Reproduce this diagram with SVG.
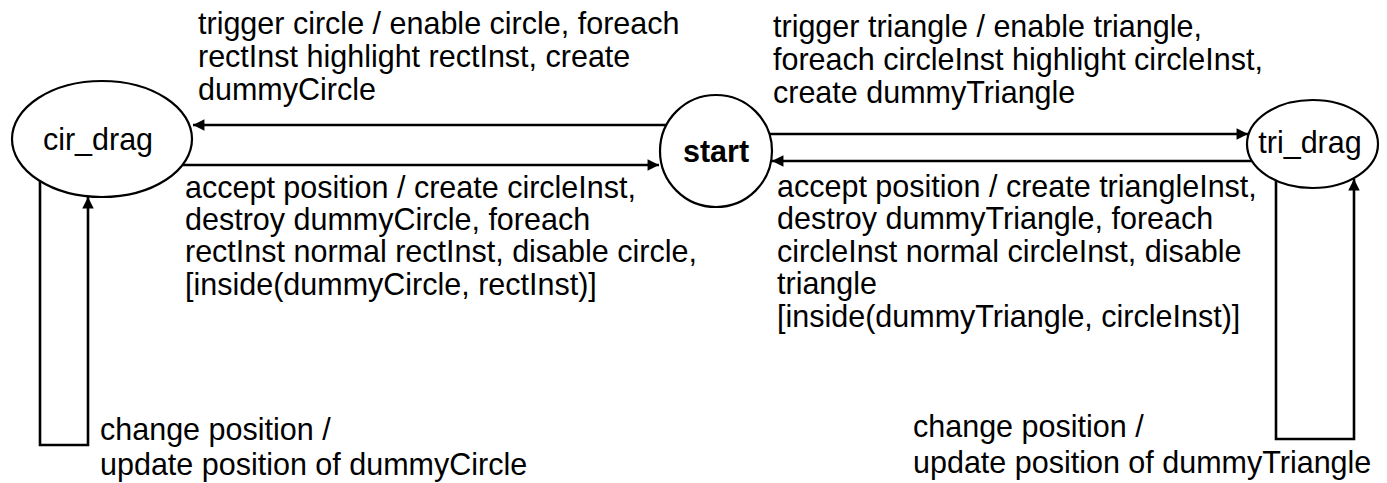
<svg xmlns="http://www.w3.org/2000/svg" width="1387" height="483" viewBox="0 0 1387 483">
<style>
  .node { fill: #fff; stroke: #000; stroke-width: 2.2; }
  .lbl { font-family: "Liberation Sans", Arial, sans-serif; font-size: 30.5px; fill: #000; }
  .nlbl { font-family: "Liberation Sans", Arial, sans-serif; font-size: 30.5px; fill: #000; text-anchor: middle; }
  .edge { fill: none; stroke: #000; stroke-width: 2.6; }
</style>
<defs>
  <marker id="arr" viewBox="0 0 10 10" refX="10" refY="5" markerWidth="8" markerHeight="4.4" markerUnits="strokeWidth" orient="auto">
    <path d="M0,0 L10,5 L0,10 z" fill="#000"/>
  </marker>
</defs>
<rect width="1387" height="483" fill="#fff"/>
<g id="connectors">
  <line class="edge" x1="666" y1="125" x2="193" y2="125" marker-end="url(#arr)"/>
  <line class="edge" x1="183" y1="165" x2="659" y2="165" marker-end="url(#arr)"/>
  <line class="edge" x1="769" y1="134" x2="1248" y2="134" marker-end="url(#arr)"/>
  <line class="edge" x1="1252" y1="161" x2="772" y2="161" marker-end="url(#arr)"/>
  <polyline class="edge" points="40,181 40,445 88,445 88,197" marker-end="url(#arr)"/>
  <polyline class="edge" points="1276,181 1276,439 1354,439 1354,179" marker-end="url(#arr)"/>
</g>
<g id="labels">
  <text class="lbl" x="198" y="34">trigger circle / enable circle, foreach</text>
  <text class="lbl" x="198" y="67">rectInst highlight rectInst, create</text>
  <text class="lbl" x="198" y="100">dummyCircle</text>
  <text class="lbl" x="773" y="37">trigger triangle / enable triangle,</text>
  <text class="lbl" x="773" y="70">foreach circleInst highlight circleInst,</text>
  <text class="lbl" x="773" y="103">create dummyTriangle</text>
  <text class="lbl" x="185" y="198">accept position / create circleInst,</text>
  <text class="lbl" x="185" y="230">destroy dummyCircle, foreach</text>
  <text class="lbl" x="185" y="262">rectInst normal rectInst, disable circle,</text>
  <text class="lbl" x="185" y="295">[inside(dummyCircle, rectInst)]</text>
  <text class="lbl" x="777" y="197">accept position / create triangleInst,</text>
  <text class="lbl" x="777" y="229">destroy dummyTriangle, foreach</text>
  <text class="lbl" x="777" y="262">circleInst normal circleInst, disable</text>
  <text class="lbl" x="777" y="294">triangle</text>
  <text class="lbl" x="777" y="327">[inside(dummyTriangle, circleInst)]</text>
  <text class="lbl" x="100" y="440">change position /</text>
  <text class="lbl" x="100" y="475">update position of dummyCircle</text>
  <text class="lbl" x="913" y="437">change position /</text>
  <text class="lbl" x="913" y="473">update position of dummyTriangle</text>
</g>
<g id="cir_drag">
  <ellipse class="node" cx="102" cy="139" rx="90" ry="58"/>
  <text class="nlbl" x="98" y="150">cir_drag</text>
</g>
<g id="start">
  <circle class="node" cx="716" cy="151" r="56"/>
  <text class="nlbl" x="716" y="162" font-weight="bold">start</text>
</g>
<g id="tri_drag">
  <ellipse class="node" cx="1312.5" cy="144" rx="65.5" ry="44"/>
  <text class="nlbl" x="1310" y="153">tri_drag</text>
</g>
</svg>
